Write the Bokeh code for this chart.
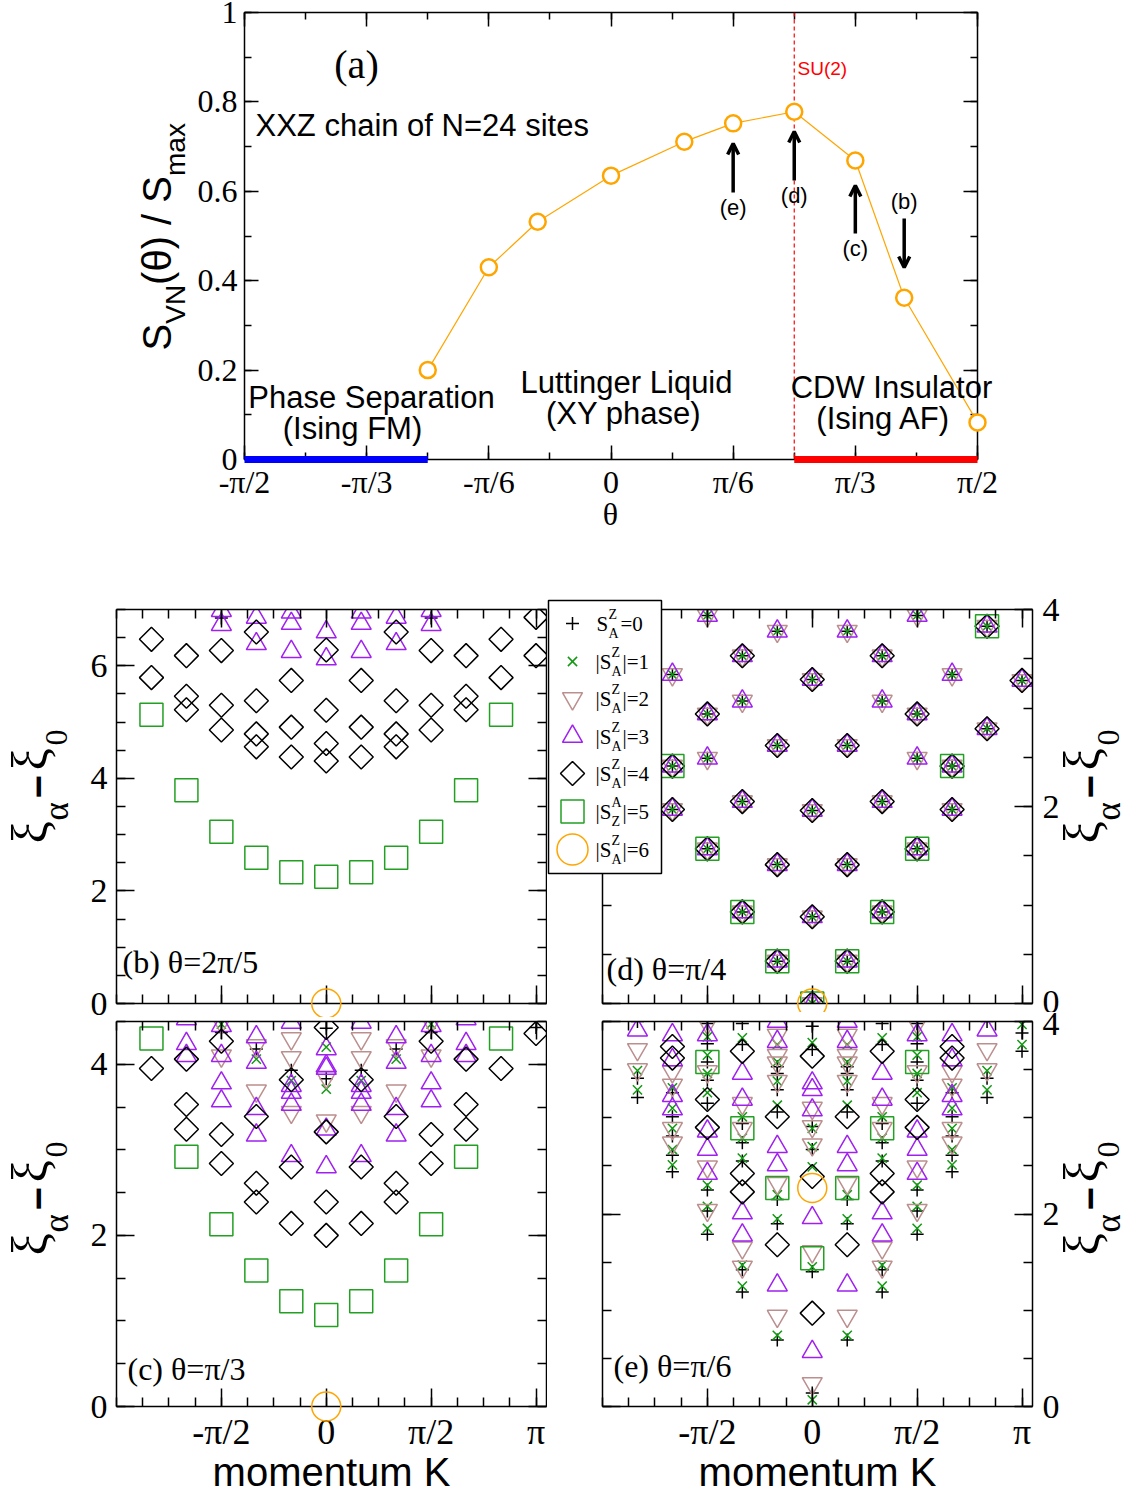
import math
from bokeh.plotting import figure
from bokeh.models import (Arrow, OpenHead, Span, FixedTicker, CustomJSTickFormatter, LinearAxis,
                          Range1d, ColumnDataSource, Grid)
from bokeh.core.properties import value
from bokeh.layouts import column, row
from bokeh.embed import file_html
from bokeh.resources import INLINE

PI = math.pi
SERIF = "Liberation Serif"
SANS = "Liberation Sans"

# ---------------- panel (a) data ----------------
theta_deg = [-45, -30, -18, 0, 18, 30, 45, 60, 72, 90]
s_vn_ratio = [0.200, 0.430, 0.532, 0.635, 0.711, 0.752, 0.778, 0.669, 0.362, 0.083]
phase_fm_deg = [-90, -45]
phase_af_deg = [45, 90]
su2_deg = 45
arrow_labels = ["(e)", "(d)", "(c)", "(b)"]
arrow_deg = [30, 45, 60, 72]
theta_tick_labels = ["-π/2", "-π/3", "-π/6", "0", "π/6", "π/3", "π/2"]
k_tick_labels = ["-π/2", "0", "π/2", "π"]

# ---------------- entanglement spectra: {K in units of pi/6: [xi_alpha - xi_0]} ----------------
# panel (b) theta = 2pi/5
b_plus = {-3: [6.85], 3: [6.85]}
b_tri = {-3: [6.98, 6.73], -2: [6.86, 6.39], -1: [6.95, 6.75, 6.25], 0: [6.60, 6.12],
         1: [6.95, 6.75, 6.25], 2: [6.86, 6.39], 3: [6.98, 6.73]}
b_dia = {-5: [6.47, 5.79], -4: [6.18, 5.46, 5.22], -3: [6.27, 5.30, 4.86], -2: [6.60, 5.38, 4.79, 4.56],
         -1: [5.74, 4.91, 4.38], 0: [6.28, 5.21, 4.62, 4.31], 1: [5.74, 4.91, 4.38],
         2: [6.60, 5.38, 4.79, 4.56], 3: [6.27, 5.30, 4.86], 4: [6.18, 5.46, 5.22], 5: [6.47, 5.79],
         6: [6.86, 6.18]}
b_sq = {-5: [5.13], -4: [3.79], -3: [3.05], -2: [2.59], -1: [2.33], 0: [2.25], 1: [2.33], 2: [2.59],
        3: [3.05], 4: [3.79], 5: [5.13]}
b_circ = {0: [0.0]}

# panel (c) theta = pi/3
c_plus = {-3: [4.37], -2: [4.18], -1: [3.93], 0: [4.42, 3.83], 1: [3.93], 2: [4.18], 3: [4.37], 6: [4.43]}
c_x = {-3: [4.47], -2: [4.06], -1: [3.81], 0: [4.20, 3.71], 1: [3.81], 2: [4.06], 3: [4.47]}
c_inv = {-3: [4.49, 4.10], -2: [4.22, 3.69], -1: [4.30, 4.08, 3.44], 0: [3.85, 3.34],
         1: [4.30, 4.08, 3.44], 2: [4.22, 3.69], 3: [4.49, 4.10]}
c_tri = {-4: [4.53, 4.24, 4.10], -3: [4.45, 4.10, 3.78, 3.57], -2: [4.32, 4.02, 3.48, 3.17],
         -1: [4.49, 3.75, 3.67, 3.53, 2.93], 0: [4.18, 3.98, 3.95, 3.24, 2.80],
         1: [4.49, 3.75, 3.67, 3.53, 2.93], 2: [4.32, 4.02, 3.48, 3.17], 3: [4.45, 4.10, 3.78, 3.57],
         4: [4.53, 4.24, 4.10]}
c_dia = {-5: [3.95], -4: [4.06, 3.53, 3.24], -3: [4.27, 3.18, 2.84], -2: [3.39, 2.61, 2.39],
         -1: [3.82, 2.80, 2.14], 0: [4.43, 3.21, 2.39, 2.00], 1: [3.82, 2.80, 2.14], 2: [3.39, 2.61, 2.39],
         3: [4.27, 3.18, 2.84], 4: [4.06, 3.53, 3.24], 5: [3.95], 6: [4.36]}
c_sq = {-5: [4.30], -4: [2.92], -3: [2.13], -2: [1.59], -1: [1.23], 0: [1.07], 1: [1.23], 2: [1.59],
        3: [2.13], 4: [2.92], 5: [4.30]}
c_circ = {0: [0.0]}

# panel (d) theta = pi/4 (SU(2) point, degenerate multiplets)
d_lvl = {-5: [3.83, 2.79], -4: [3.34, 2.41, 1.97], -3: [3.94, 2.94, 2.49, 1.57], -2: [3.53, 3.07, 2.05, 0.93],
         -1: [3.78, 2.62, 1.41, 0.43], 0: [3.29, 1.96, 0.88, 0.0], 1: [3.78, 2.62, 1.41, 0.43],
         2: [3.53, 3.07, 2.05, 0.93], 3: [3.94, 2.94, 2.49, 1.57], 4: [3.34, 2.41, 1.97], 5: [3.83, 2.79],
         6: [3.28]}
d_dia = {-5: [3.83, 2.79], -4: [2.41, 1.97], -3: [2.94, 1.57], -2: [3.53, 2.05, 0.93], -1: [2.62, 1.41, 0.43],
         0: [3.29, 1.96, 0.88, 0.0], 1: [2.62, 1.41, 0.43], 2: [3.53, 2.05, 0.93], 3: [2.94, 1.57],
         4: [2.41, 1.97], 5: [3.83, 2.79], 6: [3.28]}
d_sq = {-5: [3.83], -4: [2.41], -3: [1.57], -2: [0.93], -1: [0.43], 0: [0.0], 1: [0.43], 2: [0.93],
        3: [1.57], 4: [2.41], 5: [3.83]}
d_circ = {0: [0.0]}

# panel (e) theta = pi/6
e_plus = {-5: [4.00, 3.41, 3.21], -4: [3.26, 3.01, 2.81, 2.61, 2.44],
          -3: [3.98, 3.77, 3.58, 3.39, 3.15, 2.25, 2.03, 1.79], -2: [3.98, 3.76, 2.94, 2.74, 2.55, 1.42, 1.19],
          -1: [3.53, 3.46, 3.29, 3.06, 2.15, 1.90, 0.69], 0: [3.95, 3.71, 2.91, 2.67, 1.40, 0.14],
          1: [3.53, 3.46, 3.29, 3.06, 2.15, 1.90, 0.69], 2: [3.98, 3.76, 2.94, 2.74, 2.55, 1.42, 1.19],
          3: [3.98, 3.77, 3.58, 3.39, 3.15, 2.25, 2.03, 1.79], 4: [3.26, 3.01, 2.81, 2.61, 2.44],
          5: [4.00, 3.41, 3.21], 6: [3.88, 3.69]}
e_x = {-5: [3.49, 3.29], -4: [3.31, 3.10, 2.89, 2.67, 2.51], -3: [3.84, 3.65, 3.46, 3.26, 2.30, 2.08, 1.85],
       -2: [3.83, 3.01, 2.79, 2.58, 1.47, 1.25], -1: [3.76, 3.58, 3.38, 3.13, 2.20, 1.95, 0.74],
       0: [3.78, 2.89, 2.70, 2.49, 1.45, 0.07], 1: [3.76, 3.58, 3.38, 3.13, 2.20, 1.95, 0.74],
       2: [3.83, 3.01, 2.79, 2.58, 1.47, 1.25], 3: [3.84, 3.65, 3.46, 3.26, 2.30, 2.08, 1.85],
       4: [3.31, 3.10, 2.89, 2.67, 2.51], 5: [3.49, 3.29], 6: [3.97, 3.76]}
e_inv = {-5: [3.71, 3.50], -4: [3.48, 3.34, 2.89, 2.74], -3: [3.98, 3.48, 2.49, 2.04], -2: [3.15, 2.89, 1.65, 1.45],
         -1: [3.86, 3.65, 3.57, 3.38, 2.32, 0.94], 0: [3.10, 2.91, 2.72, 1.61, 0.24],
         1: [3.86, 3.65, 3.57, 3.38, 2.32, 0.94], 2: [3.15, 2.89, 1.65, 1.45], 3: [3.98, 3.48, 2.49, 2.04],
         4: [3.48, 3.34, 2.89, 2.74], 5: [3.71, 3.50]}
e_tri = {-5: [3.91], -4: [3.86, 3.60, 3.23, 3.09], -3: [3.86, 2.86, 2.67, 2.42], -2: [3.46, 3.19, 2.01, 1.78],
         -1: [4.00, 3.79, 2.70, 2.51, 1.26], 0: [3.36, 3.29, 3.08, 1.96, 0.57],
         1: [4.00, 3.79, 2.70, 2.51, 1.26], 2: [3.46, 3.19, 2.01, 1.78], 3: [3.86, 2.86, 2.67, 2.42],
         4: [3.86, 3.60, 3.23, 3.09], 5: [3.91]}
e_dia = {-4: [3.74, 3.62], -3: [3.19, 2.90], -2: [3.69, 2.42, 2.23], -1: [3.01, 1.68], 0: [3.64, 2.39, 0.97],
         1: [3.01, 1.68], 2: [3.69, 2.42, 2.23], 3: [3.19, 2.90], 4: [3.74, 3.62]}
e_sq = {-3: [3.58], -2: [2.89], -1: [2.27], 0: [1.54], 1: [2.27], 2: [2.89], 3: [3.58]}
e_circ = {0: [2.27]}

legend_main = ["S", "|S", "|S", "|S", "|S", "|S", "|S"]
legend_sub = ["A", "A", "A", "A", "A", "Z", "A"]
legend_sup = ["Z", "Z", "Z", "Z", "Z", "A", "Z"]
legend_tail = ["=0", "|=1", "|=2", "|=3", "|=4", "|=5", "|=6"]

# marker styles (drawing order)
MARK = [("plus", "cross", "black", 13, 0.0),
        ("x", "x", "#119911", 13, 0.0),
        ("inv", "inverted_triangle", "#bc8f8f", 20, 0.0),
        ("tri", "triangle", "#a020f0", 20, 0.0),
        ("dia", "square", "black", 17, PI / 4),
        ("sq", "square", "#22a022", 23, 0.0),
        ("circ", "circle", "#ffa500", 29, 0.0)]

BLANK = CustomJSTickFormatter(code="return '';")


def make_fig(w, h, bl, br, bt, bb, xr, yr):
    p = figure(width=w, height=h, x_range=Range1d(*xr), y_range=Range1d(*yr),
               x_axis_location=None, y_axis_location=None, toolbar_location=None,
               output_backend="svg", min_border_left=bl, min_border_right=br,
               min_border_top=bt, min_border_bottom=bb)
    p.outline_line_color = None
    p.background_fill_color = "white"
    p.border_fill_color = "white"
    for r in p.center:
        if isinstance(r, Grid):
            r.visible = False
    return p


def axis_style(maj, mnr, fs, so):
    return dict(axis_line_width=1.5, axis_line_color="black", major_tick_in=maj, major_tick_out=0,
                minor_tick_in=mnr, minor_tick_out=0, major_tick_line_width=1.5, minor_tick_line_width=1.5,
                major_tick_line_color="black", minor_tick_line_color="black",
                major_label_text_font=SERIF, major_label_text_font_size=f"{fs}px",
                major_label_text_color="black", major_label_standoff=so)


def add_axes(p, xt, xm, yt, ym, xfmt, yfmt, xside, yside, maj, mnr, xfs, yfs, xso, yso):
    for side in ("below", "above"):
        lab = side == xside
        ax = LinearAxis(ticker=FixedTicker(ticks=xt, minor_ticks=xm), formatter=xfmt if lab else BLANK,
                        **axis_style(maj, mnr, xfs if lab else 0, xso if lab else 0))
        p.add_layout(ax, side)
    for side in ("left", "right"):
        lab = side == yside
        ax = LinearAxis(ticker=FixedTicker(ticks=yt, minor_ticks=ym), formatter=yfmt if lab else BLANK,
                        **axis_style(maj, mnr, yfs if lab else 0, yso if lab else 0))
        p.add_layout(ax, side)


def to_data(g, px, py):
    fx0, fx1, x0, x1, fy0, fy1, y0, y1 = g
    return (x0 + (px - fx0) * (x1 - x0) / (fx1 - fx0), y0 + (fy1 - py) * (y1 - y0) / (fy1 - fy0))


def put(p, g, text, px, py, size, font=SANS, align="left", angle=0.0, color="black", style="normal"):
    """px, py: page position of the text's start (or centre) and of its vertical middle."""
    x, y = to_data(g, px, py)
    p.text(x=[x], y=[y], text=[text], text_font=value(font), text_font_size=value(f"{size}px"),
           text_align=value(align), text_baseline=value("middle"), angle=angle,
           text_color=color, text_font_style=value(style), level="overlay")


def flat(d):
    ks, vs = [], []
    for n, vals in d.items():
        for v in vals:
            ks.append(n * PI / 6)
            vs.append(v)
    return ks, vs


def draw_markers(p, series):
    for key, marker, color, size, ang in MARK:
        d = series.get(key)
        if not d:
            continue
        xs, ys = flat(d)
        p.scatter(xs, ys, marker=marker, size=size, angle=ang, line_color=color, fill_color=None,
                  line_width=1.5, level="overlay" if key == "circ" else "glyph")


def xi_label(p, g, xc, ybot):
    y = ybot
    put(p, g, "ξ", xc, y, 50, SERIF, angle=PI / 2)
    y -= 23
    put(p, g, "α", xc + 27, y, 35, SERIF, angle=PI / 2)
    y -= 22
    put(p, g, "−", xc + 8, y, 40, SANS, angle=PI / 2, style="bold")
    y -= 28
    put(p, g, "ξ", xc, y, 50, SERIF, angle=PI / 2)
    y -= 25
    put(p, g, "0", xc + 27, y, 32, SERIF, angle=PI / 2)


# ---------------- panel (a) ----------------
gA = (244, 977, -PI / 2, PI / 2, 12, 459, 0.0, 1.0)
pa = make_fig(1128, 590, 244, 151, 12, 131, (-PI / 2, PI / 2), (0, 1))
th_ticks = [-PI / 2 + i * PI / 6 for i in range(7)]
th_minor = [-PI / 2 + i * PI / 12 for i in range(13)]
th_fmt = CustomJSTickFormatter(args=dict(labels=theta_tick_labels),
                               code="const i = Math.round((tick + Math.PI/2)/(Math.PI/6)); const s = labels[i]; return s === undefined ? '' : s;")
ya_fmt = CustomJSTickFormatter(code="if (Math.abs(tick) < 1e-9) return '0'; if (Math.abs(tick-1) < 1e-9) return '1'; return tick.toFixed(1);")
add_axes(pa, th_ticks, th_minor, [0, 0.2, 0.4, 0.6, 0.8, 1.0], [i / 10 for i in range(11)],
         th_fmt, ya_fmt, "below", "left", 14, 7, 32, 32, 4, 7)

pa.add_layout(Span(location=su2_deg * PI / 180, dimension="height", line_color="red",
                   line_dash="4 3", line_width=1.2))
pa.line([d * PI / 180 for d in phase_fm_deg], [0, 0], line_color="blue", line_width=7, level="overlay")
pa.line([d * PI / 180 for d in phase_af_deg], [0, 0], line_color="red", line_width=7, level="overlay")
th = [d * PI / 180 for d in theta_deg]
pa.line(th, s_vn_ratio, line_color="#ffa500", line_width=1.2, level="overlay")
pa.scatter(th, s_vn_ratio, marker="circle", size=16, line_color="#ffa500", line_width=2.5,
           fill_color="white", level="overlay")

arrow_px = [(192, 143), (180, 131), (233, 185), (218, 267)]
arrow_label_mid = [207, 195, 248, 201]
for lab, deg, (y0p, y1p), lm in zip(arrow_labels, arrow_deg, arrow_px, arrow_label_mid):
    x = deg * PI / 180
    ys = (gA[5] - y0p) / (gA[5] - gA[4])
    ye = (gA[5] - y1p) / (gA[5] - gA[4])
    pa.add_layout(Arrow(end=OpenHead(size=11, line_width=3.5, line_color="black"),
                        x_start=x, y_start=ys, x_end=x, y_end=ye, line_width=3.5, line_color="black"))
    pa.text(x=[x], y=[(gA[5] - lm) / (gA[5] - gA[4])], text=[lab], text_font=value(SANS),
            text_font_size=value("22px"), text_align=value("center"), text_baseline=value("middle"),
            text_color="black", level="overlay")

put(pa, gA, "(a)", 356, 64, 40, SERIF, align="center")
put(pa, gA, "XXZ chain of N=24 sites", 255, 125, 31)
put(pa, gA, "Phase Separation", 371, 397, 31, align="center")
put(pa, gA, "(Ising FM)", 352, 428, 31, align="center")
put(pa, gA, "Luttinger Liquid", 626, 382, 31, align="center")
put(pa, gA, "(XY phase)", 623, 413, 31, align="center")
put(pa, gA, "CDW Insulator", 891, 387, 31, align="center")
put(pa, gA, "(Ising AF)", 883, 418, 31, align="center")
put(pa, gA, "SU(2)", 797, 68, 19, color="red")
put(pa, gA, "θ", 610, 513, 32, SERIF, align="center")
# rotated y label S_VN(θ) / S_max
yy = 350
put(pa, gA, "S", 156, yy, 40, angle=PI / 2); yy -= 26.7
put(pa, gA, "VN", 175, yy, 28, angle=PI / 2); yy -= 38.9
put(pa, gA, "(θ) / S", 156, yy, 40, angle=PI / 2); yy -= 108.9
put(pa, gA, "max", 175, yy, 28, angle=PI / 2)

# ---------------- panels (b)-(e) ----------------
XR = (-PI, 1.05 * PI)
k_ticks = [-PI / 2, 0.0, PI / 2, PI]
k_minor = [i * PI / 8 for i in range(-8, 9)]
k_fmt = CustomJSTickFormatter(args=dict(labels=k_tick_labels),
                              code="const i = Math.round(tick/(Math.PI/2)) + 1; const s = labels[i]; return s === undefined ? '' : s;")
yk_fmt = CustomJSTickFormatter(code="return tick.toFixed(0);")

gB = (116, 546, XR[0], XR[1], 609, 1003, 0.0, 7.0)
pb = make_fig(547, 427, 116, 1, 19, 14, XR, (0, 7))
add_axes(pb, k_ticks, k_minor, [0, 2, 4, 6], [i * 0.5 for i in range(15)], k_fmt, yk_fmt,
         None, "left", 18, 9, 36, 34, 5, 9)
draw_markers(pb, {"plus": b_plus, "tri": b_tri, "dia": b_dia, "sq": b_sq, "circ": b_circ})
put(pb, gB, "(b) θ=2π/5", 122, 961, 32, SERIF)
xi_label(pb, gB, 29, 843)

gD = (602, 1032, XR[0], XR[1], 609, 1003, 0.0, 4.0)
pd_ = make_fig(581, 422, 55, 96, 19, 9, XR, (0, 4))
add_axes(pd_, k_ticks, k_minor, [0, 2, 4], [i * 0.5 for i in range(9)], k_fmt, yk_fmt,
         None, "right", 18, 9, 36, 34, 5, 10)
draw_markers(pd_, {"plus": d_lvl, "x": d_lvl, "inv": d_lvl, "tri": d_lvl, "dia": d_dia, "sq": d_sq,
                   "circ": d_circ})
put(pd_, gD, "(d) θ=π/4", 606, 968, 32, SERIF)
xi_label(pd_, gD, 1081, 843)

# legend (drawn in panel d, overlapping the gap between panels)
lx0, ly0 = to_data(gD, 548, 873)
lx1, ly1 = to_data(gD, 661, 600)
pd_.quad(left=[lx0], right=[lx1], bottom=[ly0], top=[ly1], fill_color="white", line_color="black",
         line_width=1.5, level="overlay")
row_y = [623, 661, 698, 736, 773, 811, 849]
leg = dict(x=[], y=[], marker=[], color=[], size=[], angle=[])
for (key, marker, color, size, ang), ry in zip(MARK, row_y):
    x, y = to_data(gD, 572, ry)
    leg["x"].append(x); leg["y"].append(y); leg["marker"].append(marker)
    leg["color"].append(color); leg["size"].append(size + (2 if key == "circ" else 0)); leg["angle"].append(ang)
pd_.scatter(x="x", y="y", marker="marker", size="size", angle="angle", line_color="color",
            fill_color=None, line_width=1.5, source=ColumnDataSource(leg), level="overlay")
for i, ry in enumerate(row_y):
    mx, sx, tx = (596, 608, 620) if i == 0 else (595, 611, 622)
    put(pd_, gD, legend_main[i], mx, ry, 21, SERIF)
    put(pd_, gD, legend_sup[i], sx, ry - 9, 14, SERIF)
    put(pd_, gD, legend_sub[i], sx, ry + 9.5, 14, SERIF)
    put(pd_, gD, legend_tail[i], tx, ry, 21, SERIF)

gC = (116, 546, XR[0], XR[1], 1021, 1406, 0.0, 4.5)
pc = make_fig(547, 475, 116, 1, 4, 86, XR, (0, 4.5))
add_axes(pc, k_ticks, k_minor, [0, 2, 4], [i * 0.5 for i in range(10)], k_fmt, yk_fmt,
         "below", "left", 18, 9, 36, 34, 5, 9)
draw_markers(pc, {"plus": c_plus, "x": c_x, "inv": c_inv, "tri": c_tri, "dia": c_dia, "sq": c_sq,
                  "circ": c_circ})
put(pc, gC, "(c) θ=π/3", 127, 1368, 32, SERIF)
put(pc, gC, "momentum K", 331, 1471, 40, SANS, align="center")
xi_label(pc, gC, 29, 1255)

gE = (602, 1032, XR[0], XR[1], 1021, 1406, 0.0, 4.0)
pe = make_fig(581, 480, 55, 96, 9, 86, XR, (0, 4))
add_axes(pe, k_ticks, k_minor, [0, 2, 4], [i * 0.5 for i in range(9)], k_fmt, yk_fmt,
         "below", "right", 18, 9, 36, 34, 5, 10)
draw_markers(pe, {"plus": e_plus, "x": e_x, "inv": e_inv, "tri": e_tri, "dia": e_dia, "sq": e_sq,
                  "circ": e_circ})
put(pe, gE, "(e) θ=π/6", 613, 1365, 32, SERIF)
put(pe, gE, "momentum K", 817, 1471, 40, SANS, align="center")
xi_label(pe, gE, 1081, 1255)

layout = column(pa, row(column(pb, pc), column(pd_, pe)))
open("out.html", "w").write(file_html(layout, INLINE, title="XXZ chain entanglement"))
